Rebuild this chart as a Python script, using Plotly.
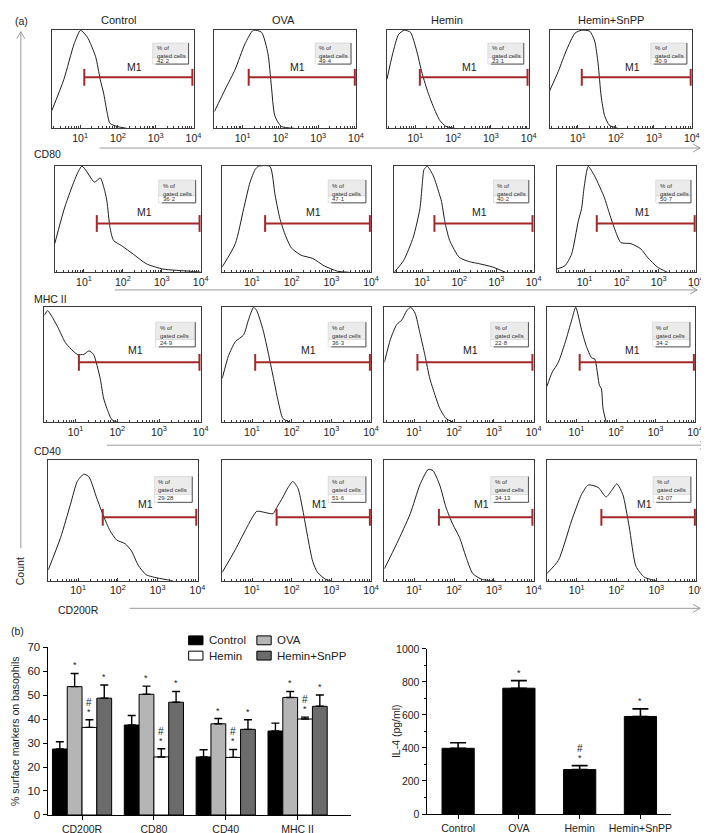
import math
import plotly.graph_objects as go

W, H = 709, 833

# ---------------- data ----------------
samples = ["Control", "OVA", "Hemin", "Hemin+SnPP"]
row_markers = ["CD80", "MHC II", "CD40", "CD200R"]
decades = [1, 2, 3, 4]
decade_labels = ["10<sup>1</sup>", "10<sup>2</sup>", "10<sup>3</sup>", "10<sup>4</sup>"]

# histogram outlines: x = log10(fluorescence), y = relative count
cd80_control_x = [0.25, 0.57, 0.84, 1.01, 1.19, 1.41, 1.53, 1.62, 1.71, 1.79, 1.97, 2.23]
cd80_control_y = [0.18, 0.50, 0.86, 1.00, 0.93, 0.73, 0.50, 0.36, 0.17, 0.05, 0.02, 0.00]
cd80_ova_x = [0.25, 0.54, 0.80, 1.06, 1.28, 1.50, 1.67, 1.76, 1.85, 2.02, 2.37]
cd80_ova_y = [0.17, 0.40, 0.60, 0.86, 1.00, 0.98, 0.76, 0.43, 0.13, 0.02, 0.00]
cd80_hemin_x = [0.25, 0.40, 0.56, 0.71, 0.87, 1.03, 1.18, 1.34, 1.50, 1.65, 1.81, 2.05]
cd80_hemin_y = [0.50, 0.76, 0.96, 1.00, 0.98, 0.80, 0.56, 0.36, 0.20, 0.08, 0.02, 0.00]
cd80_snpp_x = [0.25, 0.48, 0.70, 0.92, 1.09, 1.31, 1.44, 1.53, 1.61, 1.70, 1.83, 2.05]
cd80_snpp_y = [0.38, 0.58, 0.80, 0.97, 1.00, 0.99, 0.89, 0.66, 0.33, 0.13, 0.03, 0.00]

mhc_control_x = [0.25, 0.53, 0.95, 1.27, 1.42, 1.54, 1.59, 1.67, 1.76, 1.97, 2.27, 2.60, 3.03, 3.70, 4.00]
mhc_control_y = [0.27, 0.64, 1.00, 0.85, 0.89, 0.76, 0.67, 0.42, 0.30, 0.25, 0.17, 0.08, 0.03, 0.01, 0.00]
mhc_ova_x = [0.25, 0.58, 0.79, 0.95, 1.08, 1.16, 1.45, 1.58, 1.70, 1.83, 1.99, 2.24, 2.53, 2.82, 3.15, 3.44]
mhc_ova_y = [0.05, 0.27, 0.60, 0.85, 0.97, 1.00, 1.00, 0.73, 0.51, 0.36, 0.23, 0.16, 0.13, 0.06, 0.01, 0.00]
mhc_hemin_x = [0.25, 0.50, 0.76, 0.94, 1.00, 1.05, 1.14, 1.30, 1.47, 1.52, 1.61, 1.74, 2.00, 2.27, 2.54, 2.89, 3.24]
mhc_hemin_y = [0.00, 0.11, 0.33, 0.60, 0.82, 0.97, 1.00, 0.91, 0.73, 0.67, 0.48, 0.30, 0.14, 0.10, 0.08, 0.05, 0.00]
mhc_snpp_x = [0.25, 0.47, 0.65, 0.83, 0.92, 0.98, 1.05, 1.10, 1.27, 1.54, 1.63, 1.80, 1.98, 2.25, 2.52, 2.70, 2.96, 3.23]
mhc_snpp_y = [0.03, 0.06, 0.17, 0.48, 0.60, 0.78, 0.94, 1.00, 0.91, 0.70, 0.60, 0.42, 0.28, 0.27, 0.22, 0.14, 0.05, 0.00]

cd40_control_x = [0.25, 0.33, 0.57, 0.76, 1.04, 1.20, 1.32, 1.43, 1.59, 1.67, 1.75, 1.87, 1.99]
cd40_control_y = [0.93, 0.97, 0.83, 0.69, 0.59, 0.59, 0.62, 0.59, 0.38, 0.21, 0.12, 0.02, 0.00]
cd40_ova_x = [0.25, 0.41, 0.58, 0.79, 0.91, 1.04, 1.12, 1.28, 1.41, 1.53, 1.66, 1.78, 1.95]
cd40_ova_y = [0.38, 0.58, 0.70, 0.76, 0.89, 1.00, 0.97, 0.80, 0.60, 0.40, 0.18, 0.03, 0.00]
cd40_hemin_x = [0.25, 0.40, 0.56, 0.69, 0.81, 0.91, 1.02, 1.14, 1.27, 1.39, 1.47, 1.64, 1.80, 1.97]
cd40_hemin_y = [0.52, 0.72, 0.85, 0.89, 0.97, 1.00, 0.95, 0.78, 0.58, 0.38, 0.29, 0.12, 0.03, 0.00]
cd40_snpp_x = [0.25, 0.38, 0.54, 0.71, 0.88, 0.98, 1.13, 1.25, 1.38, 1.46, 1.58, 1.63, 1.67, 1.75]
cd40_snpp_y = [0.31, 0.43, 0.52, 0.69, 0.89, 1.00, 0.80, 0.66, 0.56, 0.55, 0.32, 0.29, 0.12, 0.00]

cd200r_control_x = [0.25, 0.56, 0.81, 0.98, 1.14, 1.27, 1.47, 1.64, 1.80, 1.97, 2.18, 2.34, 2.51, 2.71, 3.04, 3.38]
cd200r_control_y = [0.09, 0.36, 0.64, 0.83, 0.89, 0.87, 0.69, 0.54, 0.42, 0.34, 0.31, 0.25, 0.13, 0.05, 0.02, 0.00]
cd200r_ova_x = [0.25, 0.58, 0.91, 1.12, 1.33, 1.53, 1.62, 1.78, 1.91, 2.03, 2.16, 2.28, 2.40, 2.53, 2.65, 2.86, 2.99]
cd200r_ova_y = [0.07, 0.26, 0.47, 0.58, 0.57, 0.56, 0.61, 0.70, 0.78, 0.83, 0.77, 0.59, 0.37, 0.16, 0.07, 0.01, 0.00]
cd200r_hemin_x = [0.25, 0.56, 0.90, 1.14, 1.35, 1.47, 1.64, 1.80, 1.97, 2.14, 2.30, 2.47, 2.71, 3.04]
cd200r_hemin_y = [0.10, 0.31, 0.56, 0.80, 0.93, 0.92, 0.80, 0.61, 0.47, 0.36, 0.20, 0.06, 0.01, 0.00]
cd200r_snpp_x = [0.25, 0.54, 0.87, 1.12, 1.29, 1.54, 1.74, 1.87, 2.01, 2.16, 2.32, 2.49, 2.70, 2.99]
cd200r_snpp_y = [0.06, 0.17, 0.50, 0.72, 0.80, 0.78, 0.70, 0.75, 0.81, 0.72, 0.45, 0.12, 0.03, 0.00]

hist_curves = {
    "CD80": [(cd80_control_x, cd80_control_y), (cd80_ova_x, cd80_ova_y),
             (cd80_hemin_x, cd80_hemin_y), (cd80_snpp_x, cd80_snpp_y)],
    "MHC II": [(mhc_control_x, mhc_control_y), (mhc_ova_x, mhc_ova_y),
               (mhc_hemin_x, mhc_hemin_y), (mhc_snpp_x, mhc_snpp_y)],
    "CD40": [(cd40_control_x, cd40_control_y), (cd40_ova_x, cd40_ova_y),
             (cd40_hemin_x, cd40_hemin_y), (cd40_snpp_x, cd40_snpp_y)],
    "CD200R": [(cd200r_control_x, cd200r_control_y), (cd200r_ova_x, cd200r_ova_y),
               (cd200r_hemin_x, cd200r_hemin_y), (cd200r_snpp_x, cd200r_snpp_y)],
}

# M1 gate (log10 start) and % of gated cells
gate_start = {
    "CD80": [1.11, 1.16, 1.12, 1.10],
    "MHC II": [1.33, 1.33, 1.33, 1.33],
    "CD40": [1.08, 1.08, 1.08, 1.08],
    "CD200R": [1.62, 1.62, 1.62, 1.62],
}
gate_end = 3.97
gate_pct = {
    "CD80": ["42·2", "49·4", "23·1", "40·9"],
    "MHC II": ["36·2", "47·1", "40·2", "50·7"],
    "CD40": ["24·9", "36·3", "22·8", "34·2"],
    "CD200R": ["29·28", "51·6", "34·13", "43·07"],
}

# (b) left: % surface markers on basophils
surface_groups = ["CD200R", "CD80", "CD40", "MHC II"]
surf_control = [27.5, 37.5, 24.2, 35.0]
surf_control_err = [3.0, 4.0, 3.0, 3.3]
surf_ova = [53.5, 50.3, 38.0, 49.0]
surf_ova_err = [5.5, 3.4, 2.2, 2.5]
surf_hemin = [36.5, 24.2, 24.0, 40.0]
surf_hemin_err = [3.2, 3.4, 3.3, 0.8]
surf_snpp = [48.7, 47.0, 35.7, 45.3]
surf_snpp_err = [5.5, 4.5, 4.0, 4.7]
surf_marks = ["", "*", "*#", "*"]   # per series: Control, OVA, Hemin, Hemin+SnPP

# (b) right: IL-4
il4_values = [398, 762, 269, 591]
il4_err = [34, 46, 24, 46]
il4_marks = ["", "*", "*#", "*"]

# ---------------- styling / layout ----------------
FONT = "Liberation Sans, Arial, Helvetica, sans-serif"
TXT = "#222222"
RED = "#a3282c"
AX = "#3a3a3a"
ARROW = "#9a9a9a"

def pxx(x):
    return x / W

def pxy(y):
    return 1 - y / H

row_px = [(16, 116), (154, 262), (297, 414), (453, 575)]
col_px = [
    [(44.3, 187.7), (208.7, 352.0), (383.3, 526.7), (547.7, 691.7)],
    [(47.3, 195.0), (216.7, 367.3), (390.7, 531.7), (555.0, 695.7)],
    [(36.7, 195.0), (216.7, 367.3), (380.7, 531.7), (545.0, 695.0)],
    [(40.7, 191.7), (216.7, 367.3), (380.7, 531.7), (545.0, 696.0)],
]
gate_level = [0.52, 0.46, 0.52, 0.53]

minor_vals = []
for d in range(0, 4):
    for m in range(2, 10):
        v = d + math.log10(m)
        if 0.25 <= v <= 4:
            minor_vals.append(v)

fig = go.Figure()
layout_axes = {}
annotations = []
shapes = []

for r, mk in enumerate(row_markers):
    y0, y1 = row_px[r]
    for c, s in enumerate(samples):
        k = r * 4 + c + 1
        xn = "x" if k == 1 else f"x{k}"
        yn = "y" if k == 1 else f"y{k}"
        xk = "xaxis" if k == 1 else f"xaxis{k}"
        yk = "yaxis" if k == 1 else f"yaxis{k}"
        x0, x1 = col_px[r][c]
        layout_axes[xk] = dict(
            domain=[pxx(x0), pxx(x1)], anchor=yn, range=[0.25, 4.002],
            showline=True, mirror=True, linecolor=AX, linewidth=1,
            ticks="inside", ticklen=3, tickcolor=AX,
            tickmode="array", tickvals=decades, ticktext=decade_labels,
            tickfont=dict(size=10.5, color=TXT, family=FONT),
            showgrid=False, zeroline=False, fixedrange=True,
            minor=dict(tickmode="array", tickvals=minor_vals, ticks="inside",
                       ticklen=2, tickcolor=AX, showgrid=False),
        )
        layout_axes[yk] = dict(
            domain=[pxy(y1), pxy(y0)], anchor=xn, range=[0, 1.005],
            showline=True, mirror=True, linecolor=AX, linewidth=1,
            showticklabels=False, ticks="", showgrid=False, zeroline=False,
            fixedrange=True,
        )
        xs, ys = hist_curves[mk][c]
        fig.add_trace(go.Scatter(
            x=xs, y=ys, mode="lines",
            line=dict(color="#1e1e1e", width=1, shape="spline", smoothing=0.6),
            xaxis=xn, yaxis=yn, showlegend=False, hoverinfo="skip"))
        g0 = gate_start[mk][c]
        gy = gate_level[r]
        fig.add_trace(go.Scatter(
            x=[g0, gate_end], y=[gy, gy], mode="lines+markers",
            line=dict(color=RED, width=2),
            marker=dict(symbol="line-ns", size=12, line=dict(color=RED, width=2)),
            cliponaxis=False, xaxis=xn, yaxis=yn, showlegend=False, hoverinfo="skip"))
        annotations.append(dict(
            xref=xn, yref=yn, x=(g0 + gate_end) / 2 - 0.1, y=gy + 0.11,
            text="M1", showarrow=False, font=dict(size=10.5, color=TXT, family=FONT)))
        # gate statistics box
        bx0, bx1, by0, bdiv, by1 = 2.92, 3.87, 0.655, 0.72, 0.87
        shapes.append(dict(type="rect", xref=xn, yref=yn, x0=bx0, x1=bx1, y0=bdiv, y1=by1,
                           fillcolor="#ebebeb", line=dict(color="#cfcfcf", width=0.6), layer="above"))
        shapes.append(dict(type="rect", xref=xn, yref=yn, x0=bx0, x1=bx1, y0=by0, y1=bdiv,
                           fillcolor="#ffffff", line=dict(color="#cfcfcf", width=0.6), layer="above"))
        shapes.append(dict(type="line", xref=xn, yref=yn, x0=bx1, x1=bx1, y0=by0, y1=by1,
                           line=dict(color="#555555", width=1), layer="above"))
        shapes.append(dict(type="line", xref=xn, yref=yn, x0=bx0 + 0.08, x1=bx1, y0=by0, y1=by0,
                           line=dict(color="#555555", width=1), layer="above"))
        annotations.append(dict(
            xref=xn, yref=yn, x=bx0 + 0.05, y=by1 - 0.005, xanchor="left", yanchor="top",
            align="left", text="% of<br>gated cells", showarrow=False,
            font=dict(size=6, color="#333333", family=FONT)))
        annotations.append(dict(
            xref=xn, yref=yn, x=bx0 + 0.05, y=(by0 + bdiv) / 2, xanchor="left", yanchor="middle",
            align="left", text=gate_pct[mk][c], showarrow=False,
            font=dict(size=6, color="#333333", family=FONT)))

# column titles
title_x = [111.7, 279, 444, 609.5]
for s, tx in zip(samples, title_x):
    annotations.append(dict(xref="paper", yref="paper", x=pxx(tx), y=pxy(6.5),
                            text=s, showarrow=False, xanchor="center", yanchor="middle",
                            font=dict(size=11, color=TXT, family=FONT)))
# row labels
row_label_pos = [(24.5, 142), (24.5, 289), (24.5, 443.5), (48.5, 605)]
for mk, (lx, ly) in zip(row_markers, row_label_pos):
    annotations.append(dict(xref="paper", yref="paper", x=pxx(lx), y=pxy(ly),
                            text=mk, showarrow=False, xanchor="left", yanchor="middle",
                            font=dict(size=10.5, color=TXT, family=FONT)))
annotations.append(dict(xref="paper", yref="paper", x=pxx(13.5), y=pxy(7),
                        text="(a)", showarrow=False, xanchor="center", yanchor="middle",
                        font=dict(size=10.5, color=TXT, family=FONT)))
annotations.append(dict(xref="paper", yref="paper", x=pxx(10), y=pxy(626),
                        text="(b)", showarrow=False, xanchor="center", yanchor="middle",
                        font=dict(size=10.5, color=TXT, family=FONT)))
annotations.append(dict(xref="paper", yref="paper", x=pxx(12.5), y=pxy(565),
                        text="Count", textangle=-90, showarrow=False,
                        xanchor="center", yanchor="middle",
                        font=dict(size=10.5, color=TXT, family=FONT)))

# horizontal axis arrows under each row
arrow_rows = [(136, 92.7, 700), (280, 108, 697), (437.5, 100, 707), (603, 123, 700)]
for ay, ax0, ax1 in arrow_rows:
    shapes.append(dict(type="line", xref="paper", yref="paper",
                       x0=pxx(ax0), x1=pxx(ax1), y0=pxy(ay), y1=pxy(ay),
                       line=dict(color=ARROW, width=1)))
    shapes.append(dict(type="path", xref="paper", yref="paper",
                       path=f"M {pxx(ax1-7)},{pxy(ay-4)} L {pxx(ax1)},{pxy(ay)} L {pxx(ax1-7)},{pxy(ay+4)}",
                       line=dict(color=ARROW, width=1)))
# vertical Count arrow
shapes.append(dict(type="line", xref="paper", yref="paper",
                   x0=pxx(13), x1=pxx(13), y0=pxy(18), y1=pxy(542),
                   line=dict(color=ARROW, width=1)))
shapes.append(dict(type="path", xref="paper", yref="paper",
                   path=f"M {pxx(9)},{pxy(25)} L {pxx(13)},{pxy(18)} L {pxx(17)},{pxy(25)}",
                   line=dict(color=ARROW, width=1)))

# ---------------- (b) surface markers bar chart ----------------
series = [
    ("Control", surf_control, surf_control_err, "#000000"),
    ("OVA", surf_ova, surf_ova_err, "#b5b5b5"),
    ("Hemin", surf_hemin, surf_hemin_err, "#ffffff"),
    ("Hemin+SnPP", surf_snpp, surf_snpp_err, "#6b6b6b"),
]
bw = 0.206
for j, (name, vals, errs, col) in enumerate(series):
    off = -2 * bw + j * bw
    fig.add_trace(go.Bar(
        x=surface_groups, y=vals, name=name, width=bw, offset=off,
        marker=dict(color=col, line=dict(color="#000000", width=1)),
        error_y=dict(type="data", array=errs, arrayminus=[0] * len(errs), symmetric=False,
                     color="#000000", thickness=1.4, width=4),
        xaxis="x17", yaxis="y17", showlegend=False, hoverinfo="skip"))
    mark = surf_marks[j]
    for i in range(len(surface_groups)):
        top = vals[i] + errs[i]
        cx = i + off + bw / 2
        if "*" in mark:
            annotations.append(dict(xref="x17", yref="y17", x=cx, y=top, yanchor="bottom",
                                    text="*", showarrow=False, yshift=1,
                                    font=dict(size=9, color=TXT, family=FONT)))
        if "#" in mark:
            annotations.append(dict(xref="x17", yref="y17", x=cx, y=top, yanchor="bottom",
                                    text="#", showarrow=False, yshift=10,
                                    font=dict(size=10, color=TXT, family=FONT)))

layout_axes["xaxis17"] = dict(
    domain=[pxx(40), pxx(346.7)], anchor="y17", type="category", range=[-0.48, 3.74],
    showline=True, linecolor="#000000", linewidth=1, ticks="outside", ticklen=4,
    tickcolor="#000000", tickfont=dict(size=10.5, color=TXT, family=FONT),
    showgrid=False, zeroline=False, fixedrange=True)
layout_axes["yaxis17"] = dict(
    domain=[pxy(812.7), pxy(642.3)], anchor="x17", range=[0, 70],
    tickmode="array", tickvals=[0, 10, 20, 30, 40, 50, 60, 70],
    showline=True, linecolor="#000000", linewidth=1, ticks="outside", ticklen=4,
    tickcolor="#000000", tickfont=dict(size=11.5, color=TXT, family=FONT),
    showgrid=False, zeroline=False, fixedrange=True)
annotations.append(dict(xref="paper", yref="paper", x=pxx(6.5), y=pxy(728),
                        text="% surface markers on basophils", textangle=-90,
                        showarrow=False, xanchor="center", yanchor="middle",
                        font=dict(size=10.5, color=TXT, family=FONT)))

# manual legend
legend_items = [
    ("Control", "#000000", 182.7, 631.0),
    ("OVA", "#b5b5b5", 251.7, 631.0),
    ("Hemin", "#ffffff", 182.7, 646.5),
    ("Hemin+SnPP", "#6b6b6b", 251.7, 646.5),
]
for name, col, lx, ly in legend_items:
    shapes.append(dict(type="rect", xref="paper", yref="paper",
                       x0=pxx(lx), x1=pxx(lx + 14.5), y0=pxy(ly + 9), y1=pxy(ly),
                       fillcolor=col, line=dict(color="#000000", width=1)))
    annotations.append(dict(xref="paper", yref="paper", x=pxx(lx + 18.5), y=pxy(ly + 4.5),
                            text=name, showarrow=False, xanchor="left", yanchor="middle",
                            font=dict(size=11.5, color=TXT, family=FONT)))

# ---------------- (b) IL-4 bar chart ----------------
fig.add_trace(go.Bar(
    x=samples, y=il4_values, width=0.53, offset=-0.265,
    marker=dict(color="#000000", line=dict(color="#000000", width=1)),
    error_y=dict(type="data", array=il4_err, arrayminus=[0] * len(il4_err), symmetric=False,
                 color="#000000", thickness=1.6, width=8),
    xaxis="x18", yaxis="y18", showlegend=False, hoverinfo="skip"))
for i, mark in enumerate(il4_marks):
    top = il4_values[i] + il4_err[i]
    if "*" in mark:
        annotations.append(dict(xref="x18", yref="y18", x=i, y=top, yanchor="bottom",
                                text="*", showarrow=False, yshift=1,
                                font=dict(size=9, color=TXT, family=FONT)))
    if "#" in mark:
        annotations.append(dict(xref="x18", yref="y18", x=i, y=top, yanchor="bottom",
                                text="#", showarrow=False, yshift=10,
                                font=dict(size=10, color=TXT, family=FONT)))

layout_axes["xaxis18"] = dict(
    domain=[pxx(423.3), pxx(671)], anchor="y18", type="category", range=[-0.52, 3.51],
    showline=True, linecolor="#000000", linewidth=1, ticks="outside", ticklen=4,
    tickcolor="#000000", tickfont=dict(size=10.5, color=TXT, family=FONT),
    showgrid=False, zeroline=False, fixedrange=True)
layout_axes["yaxis18"] = dict(
    domain=[pxy(811.7), pxy(644.2)], anchor="x18", range=[0, 1000],
    tickmode="array", tickvals=[0, 200, 400, 600, 800, 1000],
    showline=True, linecolor="#000000", linewidth=1, ticks="outside", ticklen=4,
    tickcolor="#000000", tickfont=dict(size=10.5, color=TXT, family=FONT),
    minor=dict(tickmode="array", tickvals=[100, 300, 500, 700, 900], ticks="outside",
               ticklen=2, tickcolor="#000000"),
    showgrid=False, zeroline=False, fixedrange=True)
annotations.append(dict(xref="paper", yref="paper", x=pxx(392), y=pxy(728),
                        text="IL-4 (pg/ml)", textangle=-90,
                        showarrow=False, xanchor="center", yanchor="middle",
                        font=dict(size=10.5, color=TXT, family=FONT)))

fig.update_layout(
    width=W, height=H, autosize=False,
    margin=dict(l=0, r=0, t=0, b=0),
    paper_bgcolor="#ffffff", plot_bgcolor="#ffffff",
    font=dict(family=FONT, color=TXT),
    showlegend=False,
    annotations=annotations, shapes=shapes,
    **layout_axes,
)

fig.write_html("out.html")
